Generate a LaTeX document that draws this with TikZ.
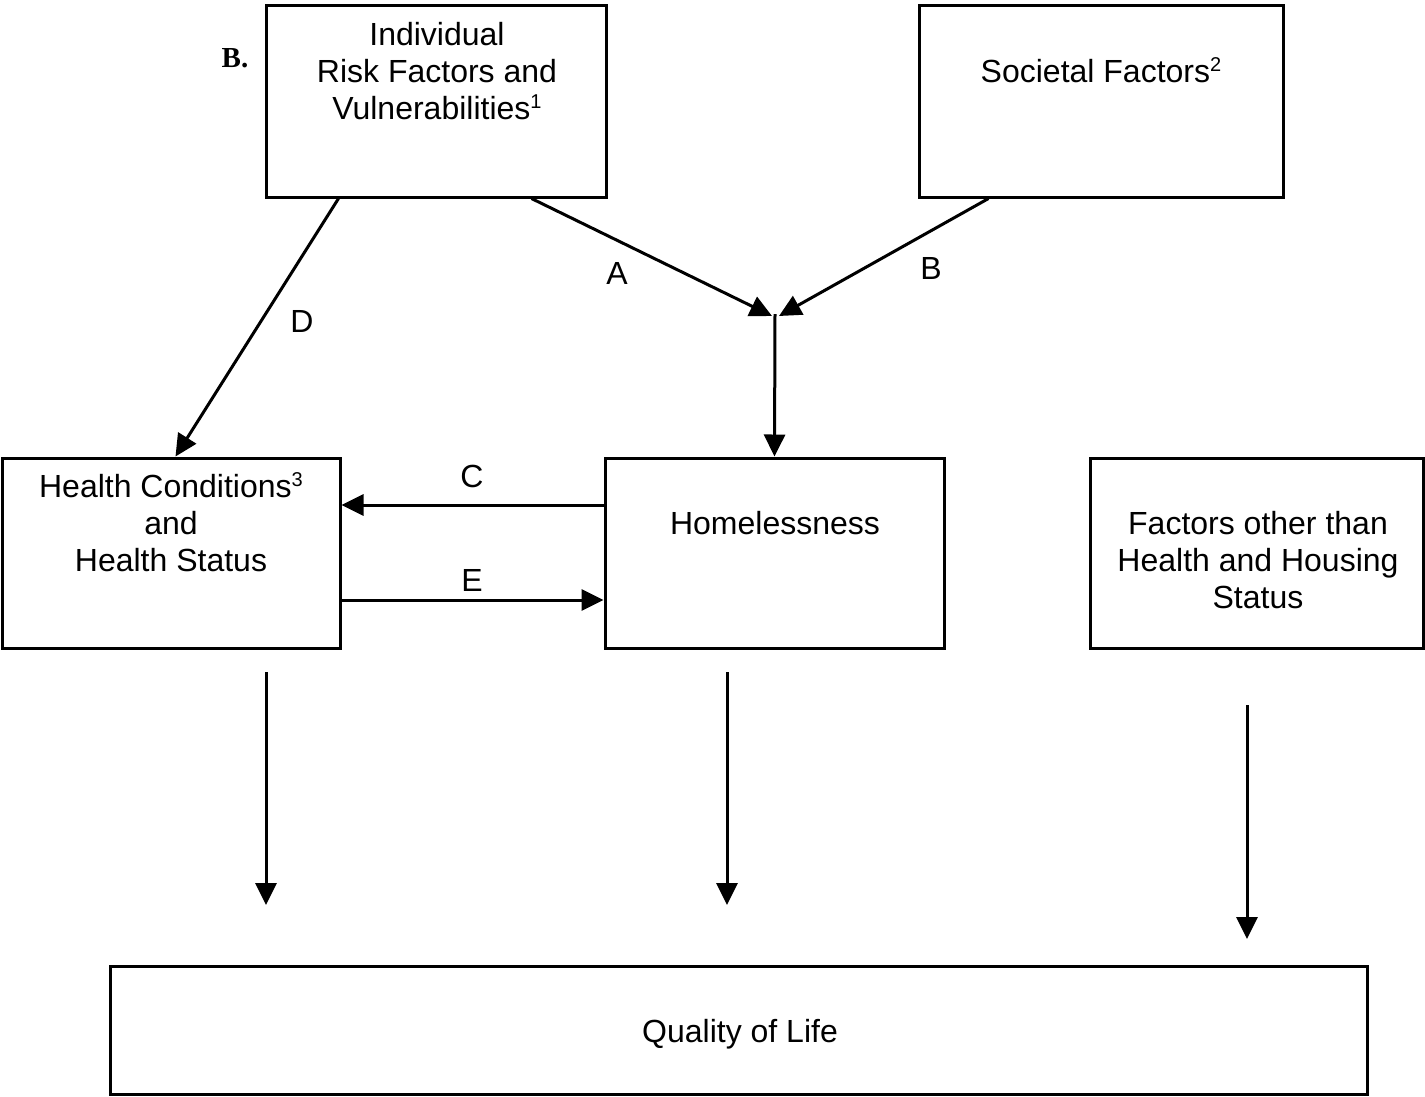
\documentclass[tikz,border=0pt]{standalone}
\usepackage{fontspec}
\setmainfont{Liberation Sans}
\newfontfamily\serifb{Liberation Serif}
\usetikzlibrary{arrows.meta,calc}
\newcommand{\supr}[1]{\raisebox{11pt}{\fontsize{20}{20}\selectfont #1}}
\begin{document}
\begin{tikzpicture}[x=1pt,y=-1pt,
  box/.style={draw,line width=3pt,inner sep=0pt},
  txt/.style={align=center,inner sep=0pt,font=\fontsize{32}{37}\selectfont},
  lbl/.style={inner sep=0pt,font=\fontsize{32}{37}\selectfont},
  arr/.style={line width=3pt,-{Triangle[length=22pt,width=21pt]}},
  ln/.style={line width=3pt}]
\useasboundingbox (0,0) rectangle (1425,1096);
% boxes
\node[box,minimum width=340pt,minimum height=192pt] (ind) at (436,101) {};
\node[box,minimum width=364pt,minimum height=192pt] (soc) at (1101,101) {};
\node[box,minimum width=338pt,minimum height=190pt] (hea) at (171,553) {};
\node[box,minimum width=339pt,minimum height=190pt] (hom) at (774.5,553) {};
\node[box,minimum width=333pt,minimum height=190pt] (oth) at (1257,553) {};
\node[box,minimum width=1257pt,minimum height=128pt] (qol) at (738.5,1030) {};
% texts (anchor base = last line baseline)
\node[txt,anchor=base] (indt) at (437,119) {Individual\\Risk Factors and\\Vulnerabilities\supr{1}};
\node[txt,anchor=base] (soct) at (1101,82) {Societal Factors\supr{2}};
\node[txt,anchor=base] (heat) at (171,571) {Health Conditions\supr{3}\\and\\Health Status};
\node[txt,anchor=base] (homt) at (775,534) {Homelessness};
\node[txt,anchor=base] (otht) at (1258,608) {Factors other than\\Health and Housing\\Status};
\node[txt,anchor=base] (qolt) at (740,1042) {Quality of Life};
\node[inner sep=0pt,anchor=base,font=\serifb\bfseries\fontsize{29}{30}\selectfont] (bl) at (235,67) {B.};
% junction
\coordinate (j) at (775,314);
\coordinate (ja) at (772,316);
\coordinate (jb) at (779,316);
% connectors
\draw[arr] ($(ind.south west)+(74,0)$) -- ($(hea.north west)+(175,0)$);
\draw[arr] ($(ind.south west)+(267,0)$) -- (ja);
\draw[arr] ($(soc.south west)+(71,0)$) -- (jb);
\draw[arr] (j) -- (hom.north);
\draw[arr] ($(hom.west)+(0,-48)$) -- ($(hea.east)+(0,-48)$);
\draw[arr] ($(hea.east)+(0,47)$) -- ($(hom.west)+(0,47)$);
% bottom arrows
\coordinate (s1) at (266,672); \coordinate (e1) at (266,905);
\coordinate (s2) at (727,672); \coordinate (e2) at (727,905);
\coordinate (s3) at (1247,705); \coordinate (e3) at (1247,939);
\draw[arr] (s1) -- (e1);
\draw[arr] (s2) -- (e2);
\draw[arr] (s3) -- (e3);
% labels
\node[lbl] (la) at (617,273) {A};
\node[lbl] (lb) at (931,268) {B};
\node[lbl] (ld) at (302,321) {D};
\node[lbl] (lc) at (472,476) {C};
\node[lbl] (le) at (472,580) {E};
\end{tikzpicture}
\end{document}
